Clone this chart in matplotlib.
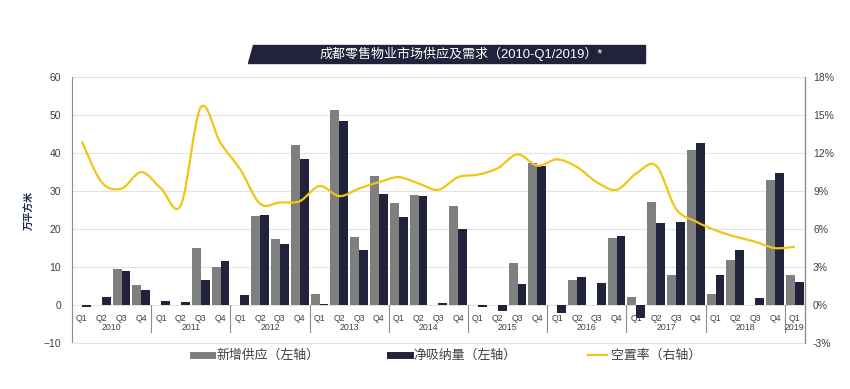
import numpy as np
import matplotlib
matplotlib.use("Agg")
from matplotlib import pyplot as plt
from matplotlib.path import Path
from matplotlib.patches import PathPatch, Polygon
from matplotlib.lines import Line2D

plt.rcParams['font.family'] = ['Liberation Sans', 'Noto Sans CJK SC', 'DejaVu Sans']

years = ['2010', '2011', '2012', '2013', '2014', '2015', '2016', '2017', '2018', '2019']
quarters = ['Q1', 'Q2', 'Q3', 'Q4'] * 9 + ['Q1']

# 新增供应 (万平方米)
supply = [0, 0, 9.4, 5.3,
          0, 0, 15.0, 10.0,
          0, 23.4, 17.4, 42.0,
          3.0, 51.2, 17.8, 34.0,
          26.8, 29.0, 0, 26.0,
          0, 0, 11.1, 37.3,
          0, 6.6, 0, 17.6,
          2.0, 27.1, 8.0, 40.8,
          3.0, 11.9, 0, 33.0,
          8.0]
# 净吸纳量 (万平方米)
absorption = [-0.5, 2.1, 8.9, 3.9,
              1.0, 0.8, 6.6, 11.5,
              2.6, 23.7, 16.0, 38.4,
              0.4, 48.4, 14.6, 29.3,
              23.1, 28.7, 0.5, 20.0,
              -0.4, -1.6, 5.5, 36.6,
              -2.1, 7.5, 5.8, 18.1,
              -3.5, 21.6, 21.8, 42.7,
              8.0, 14.5, 1.8, 34.7,
              6.1]
# 空置率 (%)
vacancy = [12.9, 9.7, 9.2, 10.5,
           9.2, 7.9, 15.6, 12.8,
           10.7, 8.0, 8.1, 8.2,
           9.4, 8.6, 9.2, 9.7,
           10.1, 9.6, 9.1, 10.1,
           10.3, 10.8, 11.9, 11.0,
           11.5, 10.9, 9.7, 9.1,
           10.4, 11.0, 7.6, 6.6,
           5.9, 5.4, 5.0, 4.5,
           4.6]

grey = '#7f7f7f'
navy = '#20233a'
gold = '#f1c612'
txt = '#404040'

fig = plt.figure(figsize=(8.5, 3.89), dpi=100)
ax = fig.add_axes([0.0847, 0.118, 0.862, 0.684])
ax2 = ax.twinx()

n = len(supply)
x = np.arange(n)
w = 0.45
ax.bar(x - w / 2, supply, w, color=grey, zorder=3)
ax.bar(x + w / 2, absorption, w, color=navy, zorder=3)

ax.set_xlim(-0.5, n - 0.5)
ax.set_ylim(-10, 60)
ax.set_yticks(range(-10, 61, 10))
ax.grid(axis='y', color='#e3e3e3', lw=0.8, zorder=0)
ax.set_xticks([])
ax.tick_params(axis='y', length=0, labelsize=7.5, labelcolor=txt, pad=8)
ax.spines['top'].set_visible(False)
ax.spines['bottom'].set_color('#e3e3e3')
ax.spines['left'].set_color('#8c8c8c')
ax.set_ylabel('万平方米', fontsize=7, color='#1f2a4d', fontweight='bold', labelpad=7)

# category labels inside the axes
for i, q in enumerate(quarters):
    ax.text(i, -3.4, q, ha='center', va='center', fontsize=6.3, color=txt)
for k, yr in enumerate(years):
    start = k * 4
    end = min(start + 3, n - 1)
    ax.text((start + end) / 2, -5.9, yr, ha='center', va='center', fontsize=6.3, color=txt)
for b in np.arange(3.5, n - 1, 4):
    ax.plot([b, b], [0, -7], color='#8c8c8c', lw=0.8, zorder=2)

# vacancy as smoothed line
ax2.set_ylim(-3, 18)
ax2.set_yticks(range(-3, 19, 3))
ax2.set_yticklabels(['%d%%' % v for v in range(-3, 19, 3)])
ax2.tick_params(axis='y', length=0, labelsize=7.5, labelcolor=txt, pad=6)
for s in ['top', 'left', 'bottom']:
    ax2.spines[s].set_visible(False)
ax2.spines['right'].set_color('#8c8c8c')

pts = np.column_stack([x, vacancy])
verts = [pts[0]]
codes = [Path.MOVETO]
for i in range(n - 1):
    p0 = pts[max(i - 1, 0)]
    p1 = pts[i]
    p2 = pts[i + 1]
    p3 = pts[min(i + 2, n - 1)]
    verts += [p1 + (p2 - p0) / 6, p2 - (p3 - p1) / 6, p2]
    codes += [Path.CURVE4] * 3
ax2.add_patch(PathPatch(Path(verts, codes), fill=False, edgecolor=gold, lw=1.6, zorder=4))

# title banner
fig.patches.append(Polygon([(253 / 850, 1 - 45 / 389), (645 / 850, 1 - 45 / 389),
                            (645 / 850, 1 - 63 / 389), (248 / 850, 1 - 63 / 389)],
                           closed=True, transform=fig.transFigure, color=navy))
fig.text(461 / 850, 1 - 54 / 389, '成都零售物业市场供应及需求（2010-Q1/2019）*',
         ha='center', va='center', color='white', fontsize=9.4)

handles = [Line2D([], [], color=grey, lw=5),
           Line2D([], [], color=navy, lw=5),
           Line2D([], [], color=gold, lw=1.6)]
fig.legend(handles, ['新增供应（左轴）', '净吸纳量（左轴）', '空置率（右轴）'],
           loc='center', bbox_to_anchor=(0.526, 1 - 356 / 389), ncol=3, frameon=False,
           fontsize=9.3, handlelength=1.5, handletextpad=0.3, columnspacing=5.5,
           labelcolor=txt)

fig.savefig('out.png', dpi=100)
